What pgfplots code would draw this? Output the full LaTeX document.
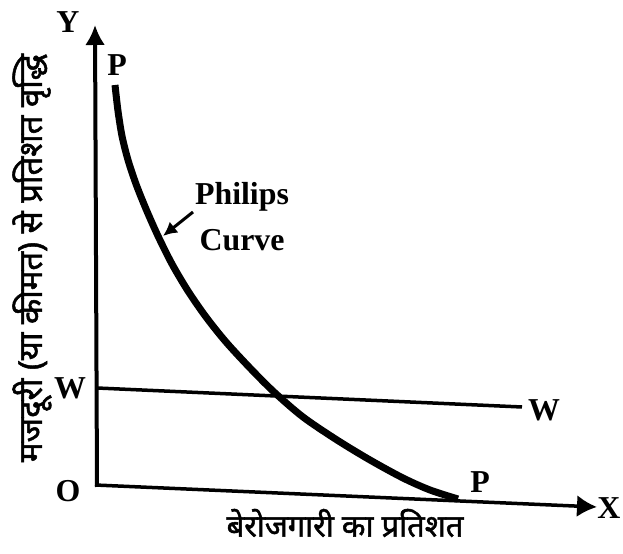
\documentclass[border=0pt]{standalone}
\usepackage{pgfplots}
\pgfplotsset{compat=1.18}
\usetikzlibrary{arrows.meta}
\usepackage{fontspec}
\setmainfont{Liberation Serif}
\newfontfamily\hindi[Script=Devanagari, FakeBold=1.6]{Noto Sans}
\begin{document}
\begin{tikzpicture}
\begin{axis}[
  name=ax,
  x=1bp, y=1bp,
  xmin=0, xmax=623, ymin=0, ymax=554,
  hide axis, clip=false,
]
% axes
\addplot[line width=4bp, -{Latex[length=20bp,width=20bp]}] coordinates {(97,67) (95,529)};
\addplot[line width=3.5bp, -{Latex[length=20bp,width=22bp]}] coordinates {(95,69) (597,47)};
% W line
\addplot[line width=3.5bp] coordinates {(97,166) (522,147)};
% Phillips curve
\addplot[line width=7bp, smooth] coordinates {
(115,469) (118,443) (122,418) (128,394) (136,370) (146,345) (158,318)
(172,290) (188,263) (206,237) (226,212) (250,186) (274,162) (303,137)
(337,114) (370,94) (403,76) (430,64) (458,55)
};
% annotation arrow
\addplot[line width=3bp, -{Latex[length=14bp,width=14bp]}] coordinates {(193,342) (163,318)};
% labels
\node[font=\bfseries\fontsize{32}{32}\selectfont] at (axis cs:68,532) {Y};
\node[font=\bfseries\fontsize{32}{32}\selectfont] at (axis cs:117,489) {P};
\node[font=\bfseries\fontsize{32}{32}\selectfont] at (axis cs:70,166) {W};
\node[font=\bfseries\fontsize{32}{32}\selectfont] at (axis cs:68,63) {O};
\node[font=\bfseries\fontsize{32}{32}\selectfont] at (axis cs:544,144) {W};
\node[font=\bfseries\fontsize{32}{32}\selectfont] at (axis cs:480,72) {P};
\node[font=\bfseries\fontsize{32}{32}\selectfont] at (axis cs:609,46) {X};
\node[font=\bfseries\fontsize{32}{32}\selectfont] at (axis cs:242,357) {Philips};
\node[font=\bfseries\fontsize{32}{32}\selectfont] at (axis cs:242,314) {Curve};
\node[font=\hindi\fontsize{31}{31}\selectfont] at (axis cs:345,31) {बेरोजगारी का प्रतिशत};
\node[font=\hindi\fontsize{33}{33}\selectfont, rotate=90] at (axis cs:32,296) {मजदूरी (या कीमत) से प्रतिशत वृद्धि};
\end{axis}
\pgfresetboundingbox
\useasboundingbox (ax.south west) rectangle (ax.north east);
\end{tikzpicture}
\end{document}
